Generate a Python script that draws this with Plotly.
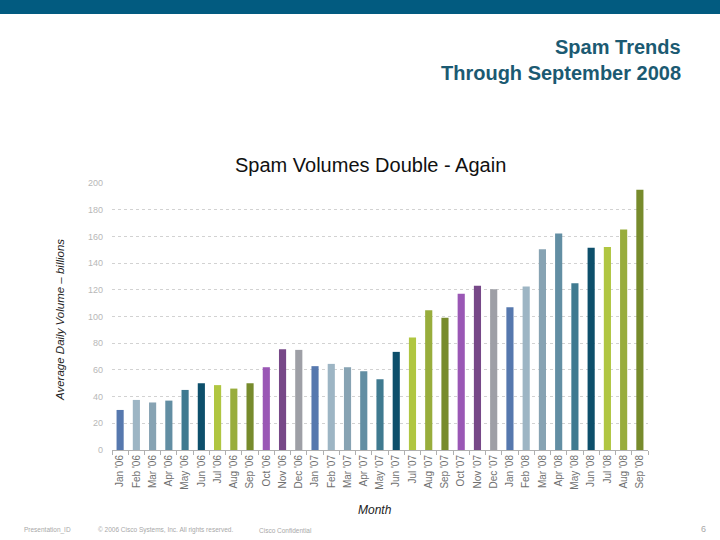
import plotly.graph_objects as go

months = ["Jan '06","Feb '06","Mar '06","Apr '06","May '06","Jun '06","Jul '06","Aug '06","Sep '06",
          "Oct '06","Nov '06","Dec '06","Jan '07","Feb '07","Mar '07","Apr '07","May '07","Jun '07",
          "Jul '07","Aug '07","Sep '07","Oct '07","Nov '07","Dec '07","Jan '08","Feb '08","Mar '08",
          "Apr '08","May '08","Jun '08","Jul '08","Aug '08","Sep '08"]
volumes = [30, 37.5, 35.6, 37, 45, 50, 48.6, 46, 50,
           62, 75.5, 75, 62.8, 64.5, 62, 59, 53, 73.5,
           84.2, 104.7, 99, 117, 123, 120.4, 107, 122.4, 150.3,
           162.2, 125, 151.5, 152, 165.2, 195]
month_colors = ["#5678ae", "#9db5c4", "#87a3b3", "#628ea3", "#3f7a90", "#0d4f6b",
                "#b0c641", "#98ad3c", "#778b2c", "#9a57b5", "#774888", "#9e9fa6"]
y_ticks = [0, 20, 40, 60, 80, 100, 120, 140, 160, 180, 200]

W, H = 720, 540
L, R, T, B = 112, 72, 183, 90
PH = H - T - B
PW = W - L - R

def py(p):
    return (H - B - p) / PH

def px(p):
    return (p - L) / PW

colors = [month_colors[i % 12] for i in range(len(months))]

fig = go.Figure()
fig.add_trace(go.Bar(x=months, y=volumes, marker=dict(color=colors, line=dict(width=0)),
                     hoverinfo="x+y"))

fig.update_layout(
    width=W, height=H,
    margin=dict(l=L, r=R, t=T, b=B, autoexpand=False),
    paper_bgcolor="white", plot_bgcolor="white",
    bargap=0.56,
    showlegend=False,
    font=dict(family="Liberation Sans, Arial, sans-serif"),
    xaxis=dict(
        type="category", range=[-0.5, len(months) - 0.5],
        tickangle=-90, tickfont=dict(size=10, color="#707070"),
        showline=True, linecolor="#b0b0b0", linewidth=1,
        ticks="outside", tickson="boundaries", ticklen=4, tickcolor="#b0b0b0",
        showgrid=False, fixedrange=True,
    ),
    yaxis=dict(
        range=[0, 200], tickvals=y_ticks, ticktext=[str(v) for v in y_ticks],
        tickfont=dict(size=9, color="#b8b8b8"),
        showgrid=True, gridcolor="#d2d2d2", griddash="dot", gridwidth=1,
        zeroline=False, showline=False, ticks="", ticklabelstandoff=8,
        fixedrange=True,
    ),
)

# top banner
fig.add_shape(type="rect", xref="paper", yref="paper",
              x0=px(0), x1=px(W), y0=py(14), y1=py(0),
              fillcolor="#025b80", line=dict(width=0), layer="above")

ann = [
    dict(text="<b>Spam Trends</b>", x=px(683), y=py(47), xanchor="right", yanchor="middle",
         font=dict(size=20, color="#1b5a72", family="Liberation Sans, Arial")),
    dict(text="<b>Through September 2008</b>", x=px(683), y=py(73), xanchor="right", yanchor="middle",
         font=dict(size=20, color="#1b5a72", family="Liberation Sans, Arial")),
    dict(text="Spam Volumes Double - Again", x=px(370), y=py(165), xanchor="center", yanchor="middle",
         font=dict(size=20, color="#111111", family="Liberation Sans, Arial")),
    dict(text="<i>Average Daily Volume – billions</i>", x=px(60), y=py(320), xanchor="center", yanchor="middle",
         textangle=-90, font=dict(size=11.5, color="#222222", family="Liberation Sans, Arial")),
    dict(text="<i>Month</i>", x=px(375), y=py(510), xanchor="center", yanchor="middle",
         font=dict(size=12, color="#222222", family="Liberation Sans, Arial")),
    dict(text="Presentation_ID", x=px(22), y=py(530), xanchor="left", yanchor="middle",
         font=dict(size=6.5, color="#a8a8a8")),
    dict(text="© 2006 Cisco Systems, Inc. All rights reserved.", x=px(96), y=py(530), xanchor="left", yanchor="middle",
         font=dict(size=6.5, color="#a8a8a8")),
    dict(text="Cisco Confidential", x=px(257), y=py(530), xanchor="left", yanchor="middle",
         font=dict(size=6.5, color="#a8a8a8")),
    dict(text="6", x=px(708), y=py(529), xanchor="right", yanchor="middle",
         font=dict(size=9, color="#a8a8a8")),
]
for a in ann:
    a.update(xref="paper", yref="paper", showarrow=False)
    fig.add_annotation(**a)

fig.write_html("out.html", config={"displayModeBar": False},
               post_script="document.body.style.margin='0';document.body.style.padding='0';")
